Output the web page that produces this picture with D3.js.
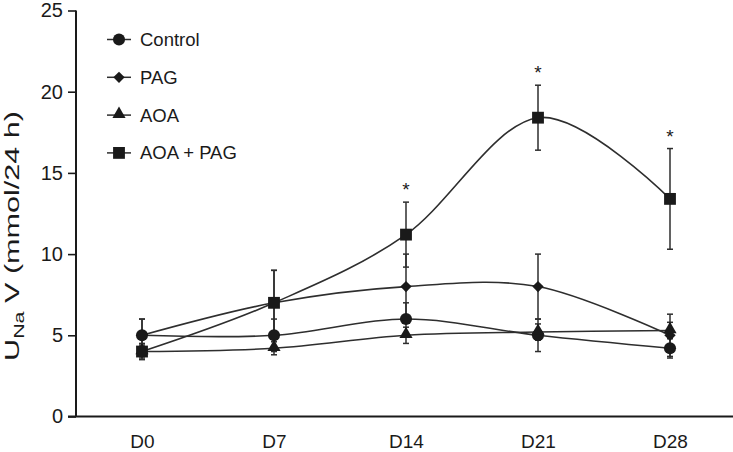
<!DOCTYPE html>
<html>
<head>
<meta charset="utf-8">
<script src="https://cdn.jsdelivr.net/npm/d3@7"></script>
<style>
  html, body { margin: 0; padding: 0; background: #fff; }
  svg { display: block; font-family: "Liberation Sans", Arial, sans-serif; }
</style>
</head>
<body>
<svg id="chart" width="733" height="452"></svg>
<script>
// ---- data ----
const days = ["D0", "D7", "D14", "D21", "D28"];
const yTicks = [0, 5, 10, 15, 20, 25];
const seriesNames = ["Control", "PAG", "AOA", "AOA + PAG"];
const controlMean = [5.0, 5.0, 6.0, 5.0, 4.2];
const controlErr  = [1.0, 1.0, 1.0, 1.0, 0.6];
const pagMean = [5.0, 7.0, 8.0, 8.0, 5.0];
const pagErr  = [1.0, 2.0, 2.0, 2.0, 1.3];
const aoaMean = [4.0, 4.2, 5.0, 5.2, 5.3];
const aoaErr  = [0.4, 0.4, 0.5, 0.5, 0.5];
const aoapagMean = [4.0, 7.0, 11.2, 18.4, 13.4];
const aoapagErr  = [0.5, 2.0, 2.0, 2.0, 3.1];
const significant = [false, false, true, true, true];

const series = [
  { name: seriesNames[0], mean: controlMean, err: controlErr, shape: "circle" },
  { name: seriesNames[1], mean: pagMean, err: pagErr, shape: "diamond" },
  { name: seriesNames[2], mean: aoaMean, err: aoaErr, shape: "triangle" },
  { name: seriesNames[3], mean: aoapagMean, err: aoapagErr, shape: "square" }
];

const svg = d3.select("#chart");
const ink = "#1a1a1a";
const lineCol = "#2e2e2e";
const font = "Liberation Sans, Arial, sans-serif";

const x = d3.scalePoint().domain(days).range([76, 736]).padding(0.5);
const y = d3.scaleLinear().domain([0, 25]).range([416.5, 10.5]);

// axes
const yAxis = svg.append("g").attr("transform", "translate(76,0)")
  .call(d3.axisLeft(y).tickValues(yTicks).tickSize(8).tickPadding(5));
yAxis.select(".domain").attr("stroke", ink).attr("stroke-width", 2).attr("d", `M0,${y(25)}V${y(0)}`);
yAxis.selectAll(".tick line").attr("stroke", ink).attr("stroke-width", 1.6);
yAxis.selectAll(".tick text").attr("font-size", 20).attr("fill", ink).attr("font-family", font);

const xAxis = svg.append("g").attr("transform", `translate(0,${y(0)})`)
  .call(d3.axisBottom(x).tickSize(0).tickPadding(18.5));
xAxis.select(".domain").attr("stroke", ink).attr("stroke-width", 2).attr("d", "M68,0H733");
xAxis.selectAll(".tick text").attr("font-size", 19).attr("fill", ink).attr("font-family", font);

// y title (stretched along its length like the reference)
const yt = svg.append("text")
  .attr("text-anchor", "middle")
  .attr("font-size", 20).attr("fill", ink);
yt.append("tspan").text("U");
yt.append("tspan").attr("font-size", 14).attr("dy", 4.5).text("Na");
yt.append("tspan").attr("dy", -4.5).text(" V (mmol/24 h)");
const tw = yt.node().getBBox().width;
yt.attr("transform", `translate(19,236) rotate(-90) scale(${250 / tw},1)`);

// symbols
const symSize = { circle: 115, diamond: 64, triangle: 75, square: 140 };
const symType = { circle: d3.symbolCircle, diamond: d3.symbolSquare, triangle: d3.symbolTriangle, square: d3.symbolSquare };
function sym(shape) { return d3.symbol().type(symType[shape]).size(symSize[shape])(); }
function symTransform(shape, cx, cy) {
  if (shape === "diamond") return `translate(${cx},${cy}) rotate(45)`;
  if (shape === "triangle") return `translate(${cx},${cy - 1})`;
  return `translate(${cx},${cy})`;
}

const line = d3.line()
  .x((d, i) => x(days[i]))
  .y(d => y(d))
  .curve(d3.curveCardinal.tension(0));

// lines
series.forEach(s => {
  svg.append("path").attr("d", line(s.mean))
    .attr("fill", "none").attr("stroke", lineCol).attr("stroke-width", 1.6);
});

// error bars
series.forEach(s => {
  const g = svg.append("g").attr("stroke", lineCol).attr("stroke-width", 1.5);
  s.mean.forEach((m, i) => {
    const cx = x(days[i]);
    const y1 = y(m + s.err[i]), y2 = y(m - s.err[i]);
    g.append("line").attr("x1", cx).attr("x2", cx).attr("y1", y1).attr("y2", y2);
    g.append("line").attr("x1", cx - 3).attr("x2", cx + 3).attr("y1", y1).attr("y2", y1);
    g.append("line").attr("x1", cx - 3).attr("x2", cx + 3).attr("y1", y2).attr("y2", y2);
  });
});

// markers
series.forEach(s => {
  s.mean.forEach((m, i) => {
    svg.append("path").attr("d", sym(s.shape))
      .attr("transform", symTransform(s.shape, x(days[i]), y(m)))
      .attr("fill", ink);
  });
});

// significance stars
const comboSeries = series[3];
days.forEach((d, i) => {
  if (!significant[i]) return;
  svg.append("text")
    .attr("x", x(d)).attr("y", y(comboSeries.mean[i] + comboSeries.err[i]) - 6)
    .attr("text-anchor", "middle").attr("font-size", 19).attr("fill", ink)
    .text("*");
});

// legend
const leg = svg.append("g");
series.forEach((s, i) => {
  const ly = 39.5 + i * 37.8;
  leg.append("line").attr("x1", 107).attr("x2", 131).attr("y1", ly).attr("y2", ly)
    .attr("stroke", lineCol).attr("stroke-width", 1.5);
  leg.append("path").attr("d", sym(s.shape))
    .attr("transform", symTransform(s.shape, 119, ly)).attr("fill", ink);
  leg.append("text").attr("x", 140).attr("y", ly + 6.5)
    .attr("font-size", 18.5).attr("fill", ink).text(s.name);
});
</script>
</body>
</html>
